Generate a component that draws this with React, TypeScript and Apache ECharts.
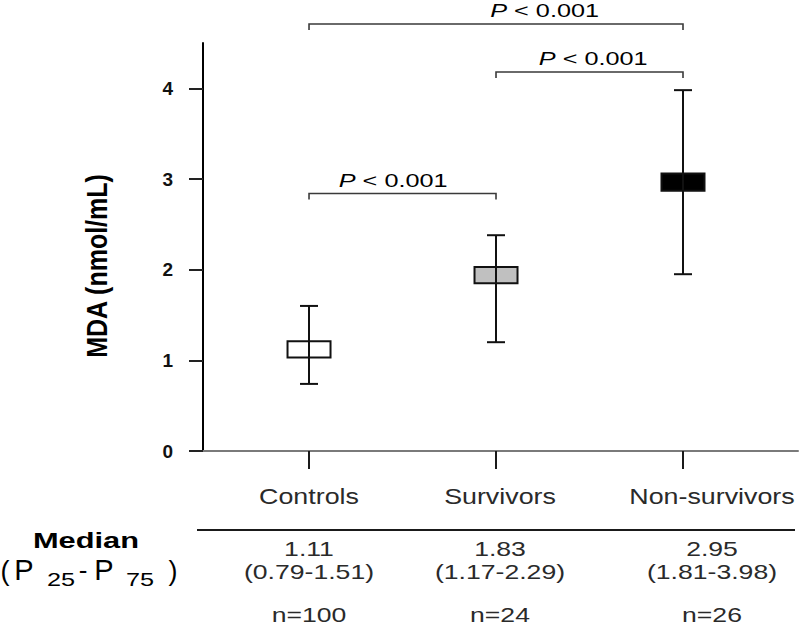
import React, { useEffect, useRef } from "react";
import * as echarts from "echarts";

// ---------- data ----------
const categories = ["Controls", "Survivors", "Non-survivors"];
const whiskerHigh = [1.6, 2.38, 3.98];
const boxHigh = [1.21, 2.03, 3.06];
const boxLow = [1.03, 1.85, 2.87];
const whiskerLow = [0.74, 1.2, 1.95];
const boxFills = ["#ffffff", "#c0c0c0", "#000000"];
const yTicks = [0, 1, 2, 3, 4];

const medians = ["1.11", "1.83", "2.95"];
const ranges = ["(0.79-1.51)", "(1.17-2.29)", "(1.81-3.98)"];
const counts = ["n=100", "n=24", "n=26"];

// significance brackets (category index from/to, level in MDA units, label position in category units)
const bracketFrom = [0, 1, 0];
const bracketTo = [1, 2, 2];
const bracketLevel = [2.84, 4.18, 4.71];
const bracketLabelAt = [0.45, 1.52, 1.26];
const pTexts = [" < 0.001", " < 0.001", " < 0.001"];

// ---------- style ----------
const FONT = '"Liberation Sans", Arial, Helvetica, sans-serif';
const SX = 1.33;
const tableCols = [309, 500, 712];

export default function App() {
  const ref = useRef<HTMLDivElement>(null);

  useEffect(() => {
    const chart = echarts.init(ref.current!, null, { renderer: "svg" });

    const boxData = categories.map((_, i) => [i, whiskerHigh[i], boxHigh[i], boxLow[i], whiskerLow[i]]);
    const bracketData = bracketFrom.map((f, i) => [f, bracketTo[i], bracketLevel[i], bracketLabelAt[i], i]);

    const txt = (text: string, x: number, y: number, size: number, opts: any = {}) => ({
      type: "text",
      x,
      y,
      scaleX: opts.scaleX ?? SX,
      scaleY: opts.scaleY ?? 1,
      rotation: opts.rotation ?? 0,
      silent: true,
      style: {
        text,
        fill: opts.fill ?? "#2a2a2a",
        fontSize: size,
        fontFamily: FONT,
        fontWeight: opts.bold ? "bold" : "normal",
        align: "center",
        verticalAlign: "middle",
        textAlign: "center",
        textVerticalAlign: "middle",
      },
    });

    const graphics: any[] = [];
    // y-axis title
    graphics.push(txt("MDA (nmol/mL)", 97, 266, 25, { bold: true, scaleX: 1, scaleY: 1.15, rotation: Math.PI / 2, fill: "#000" }));
    // category header row
    categories.forEach((c, i) => graphics.push(txt(c, tableCols[i], 496, 22, { scaleX: 1.22 })));
    // separator line
    graphics.push({
      type: "line",
      silent: true,
      shape: { x1: 197, y1: 530, x2: 795, y2: 530 },
      style: { stroke: "#1a1a1a", lineWidth: 2 },
    });
    medians.forEach((m, i) => graphics.push(txt(m, tableCols[i], 549, 20)));
    ranges.forEach((r, i) => graphics.push(txt(r, tableCols[i], 572, 20)));
    counts.forEach((n, i) => graphics.push(txt(n, tableCols[i], 615, 20)));
    // row header
    graphics.push(txt("Median", 86, 541, 22, { bold: true, scaleX: 1.4, fill: "#000" }));
    graphics.push(txt("(", 5, 571, 27, { scaleX: 1, fill: "#000" }));
    graphics.push(txt("P", 24, 570, 29, { scaleX: 1, fill: "#000" }));
    graphics.push(txt("25", 61, 580, 19, { fill: "#000" }));
    graphics.push(txt("-", 83, 570, 26, { scaleX: 1, fill: "#000" }));
    graphics.push(txt("P", 104, 570, 29, { scaleX: 1, fill: "#000" }));
    graphics.push(txt("75", 140, 580, 19, { fill: "#000" }));
    graphics.push(txt(")", 173, 571, 27, { scaleX: 1, fill: "#000" }));

    const option: any = {
      animation: false,
      backgroundColor: "#ffffff",
      grid: { left: 203, right: 2, top: 43, bottom: 177, containLabel: false },
      xAxis: {
        type: "value",
        min: -0.567,
        max: 2.615,
        splitLine: { show: false },
        axisLine: { show: true, onZero: false, lineStyle: { color: "#7a7a7a", width: 2 } },
        axisTick: {
          show: true,
          customValues: [0, 1, 2],
          length: 18,
          inside: false,
          lineStyle: { color: "#1a1a1a", width: 2 },
        },
        axisLabel: { show: false },
      },
      yAxis: {
        type: "value",
        min: 0,
        max: 4.5,
        interval: 1,
        splitLine: { show: false },
        axisLine: { show: true, onZero: false, lineStyle: { color: "#000", width: 2 } },
        axisTick: {
          show: true,
          customValues: yTicks,
          length: 14,
          inside: false,
          lineStyle: { color: "#222", width: 2 },
        },
        axisLabel: {
          customValues: yTicks,
          margin: 30,
          fontSize: 19,
          fontWeight: "bold",
          fontFamily: FONT,
          color: "#111",
        },
      },
      graphic: { elements: graphics },
      series: [
        {
          type: "custom",
          name: "MDA",
          data: boxData,
          encode: { x: 0, y: [1, 2, 3, 4] },
          clip: false,
          renderItem: (params: any, api: any) => {
            const i = api.value(0);
            const x = api.coord([i, 0])[0];
            const yWH = api.coord([i, api.value(1)])[1];
            const yBH = api.coord([i, api.value(2)])[1];
            const yBL = api.coord([i, api.value(3)])[1];
            const yWL = api.coord([i, api.value(4)])[1];
            const bw = 43;
            const cw = 18;
            const stroke = "#111";
            return {
              type: "group",
              children: [
                {
                  type: "rect",
                  shape: { x: x - bw / 2, y: yBH, width: bw, height: yBL - yBH },
                  style: { fill: boxFills[i], stroke, lineWidth: 2 },
                },
                { type: "line", shape: { x1: x, y1: yWH, x2: x, y2: yWL }, style: { stroke, lineWidth: 2 } },
                { type: "line", shape: { x1: x - cw / 2, y1: yWH, x2: x + cw / 2, y2: yWH }, style: { stroke, lineWidth: 2 } },
                { type: "line", shape: { x1: x - cw / 2, y1: yWL, x2: x + cw / 2, y2: yWL }, style: { stroke, lineWidth: 2 } },
              ],
            };
          },
        },
        {
          type: "custom",
          name: "brackets",
          data: bracketData,
          encode: { x: [0, 1], y: 2 },
          clip: false,
          silent: true,
          renderItem: (params: any, api: any) => {
            const p1 = api.coord([api.value(0), api.value(2)]);
            const p2 = api.coord([api.value(1), api.value(2)]);
            const pl = api.coord([api.value(3), api.value(2)]);
            const idx = api.value(4);
            const y = p1[1];
            return {
              type: "group",
              children: [
                {
                  type: "polyline",
                  shape: { points: [[p1[0], y + 6], [p1[0], y], [p2[0], y], [p2[0], y + 6]] },
                  style: { stroke: "#3a3a3a", lineWidth: 1.6, fill: null },
                },
                {
                  type: "text",
                  x: pl[0],
                  y: y - 13,
                  scaleX: SX,
                  style: {
                    text: "{i|P}{n|" + pTexts[idx] + "}",
                    align: "center",
                    verticalAlign: "middle",
                    fill: "#000",
                    fontSize: 19,
                    fontFamily: FONT,
                    rich: {
                      i: { fontSize: 19, fontStyle: "italic", fontFamily: FONT, fill: "#000" },
                      n: { fontSize: 19, fontFamily: FONT, fill: "#000" },
                    },
                  },
                },
              ],
            };
          },
        },
      ],
    };

    chart.setOption(option);
    return () => chart.dispose();
  }, []);

  return (
    <div
      ref={ref}
      style={{ position: "absolute", left: 0, top: 0, width: 800, height: 628, background: "#fff" }}
    />
  );
}
